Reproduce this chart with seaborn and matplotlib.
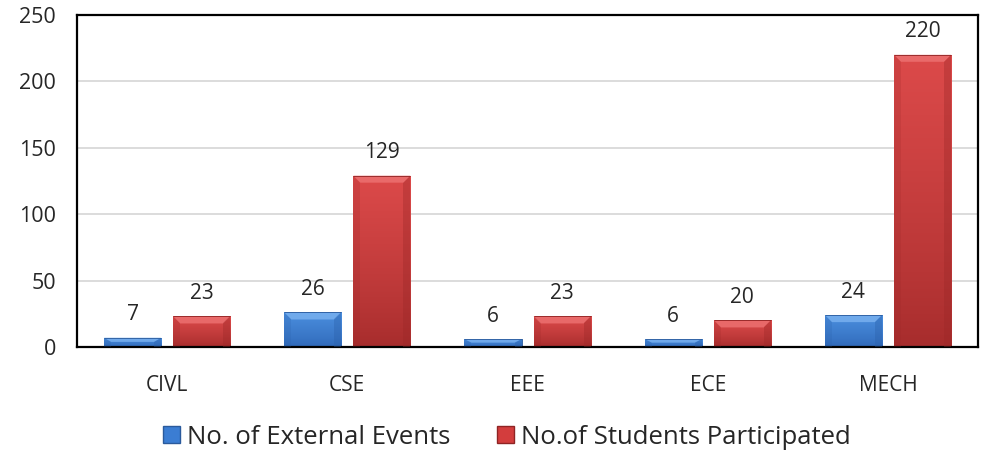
import matplotlib
matplotlib.use("Agg")
import matplotlib.pyplot as plt
import matplotlib.patches as mpatches
import numpy as np
import seaborn as sns
import pandas as pd

departments = ["CIVL", "CSE", "EEE", "ECE", "MECH"]
external_events = [7, 26, 6, 6, 24]
students_participated = [23, 129, 23, 20, 220]
series_names = ["No. of External Events", "No.of Students Participated"]
y_ticks = [0, 50, 100, 150, 200, 250]

df = pd.DataFrame({
    "Department": departments * 2,
    "Value": external_events + students_participated,
    "Series": [series_names[0]] * len(departments) + [series_names[1]] * len(departments),
})

sns.set_theme(style="white")
plt.rcParams["font.family"] = ["Open Sans", "DejaVu Sans"]

colors = {series_names[0]: "#3b7dd3", series_names[1]: "#d33d3d"}
top_col = {series_names[0]: "#4a8ede", series_names[1]: "#dc4a4a"}
bot_col = {series_names[0]: "#2f68b8", series_names[1]: "#a62c2c"}
bevel_top = {series_names[0]: "#78b0ef", series_names[1]: "#ec7070"}
bevel_side = {series_names[0]: "#2a5fa8", series_names[1]: "#9a2727"}
edge = {series_names[0]: "#2a5a9c", series_names[1]: "#8f2424"}

fig = plt.figure(figsize=(9.94, 4.53), dpi=100)
ax = fig.add_axes([0.0775, 0.234, 0.9065, 0.733])

sns.barplot(data=df, x="Department", y="Value", hue="Series", palette=colors,
            width=0.767, gap=0.174, ax=ax, legend=False, saturation=1)

ax.set_xlim(-0.5, len(departments) - 0.5)
ax.set_ylim(0, 250)

# pixel-to-data scales for the bevel sizes
ax_h_px = 0.733 * 453
ax_w_px = 0.9065 * 994
dy_px = 250 / ax_h_px
dx_px = len(departments) / ax_w_px


def hex_rgb(c):
    return np.array(matplotlib.colors.to_rgb(c))


for container, name in zip(ax.containers, series_names):
    c_top, c_bot = hex_rgb(top_col[name]), hex_rgb(bot_col[name])
    for bar in container.patches:
        x0, w, h = bar.get_x(), bar.get_width(), bar.get_height()
        bar.set_edgecolor(edge[name])
        bar.set_linewidth(0.6)
        # vertical shading: lighter near the top, darker at the base
        t = np.linspace(1, 0, 64)[:, None, None]
        grad = c_bot + (c_top - c_bot) * t ** 0.8
        im = ax.imshow(grad, extent=(x0, x0 + w, 0, h), aspect="auto", zorder=2.5,
                       interpolation="bilinear")
        im.set_clip_path(bar)
        bv = min(7 * dy_px, h * 0.45)
        bx = 7 * dx_px
        # top bevel
        ax.add_patch(mpatches.Polygon([(x0, h), (x0 + w, h), (x0 + w - bx, h - bv), (x0 + bx, h - bv)],
                                      closed=True, facecolor=bevel_top[name], edgecolor="none",
                                      alpha=0.85, zorder=3))
        # side bevels
        ax.add_patch(mpatches.Polygon([(x0 + w, h), (x0 + w, 0), (x0 + w - bx, 0), (x0 + w - bx, h - bv)],
                                      closed=True, facecolor=bevel_side[name], edgecolor="none",
                                      alpha=0.35, zorder=3))
        ax.add_patch(mpatches.Polygon([(x0, h), (x0, 0), (x0 + bx, 0), (x0 + bx, h - bv)],
                                      closed=True, facecolor=bevel_side[name], edgecolor="none",
                                      alpha=0.2, zorder=3))
        ax.add_patch(mpatches.Rectangle((x0, h), w, 0, fill=False, edgecolor=edge[name],
                                        linewidth=0.6, zorder=3.1))
    ax.bar_label(container, labels=[str(int(v)) for v in container.datavalues],
                 padding=9, fontsize=15, color="#262626")

ax.set_yticks(y_ticks)
ax.set_yticklabels([str(t) for t in y_ticks], fontsize=15.5, color="#262626")
ax.tick_params(axis="x", labelsize=15, colors="#262626", pad=20, length=0)
ax.tick_params(axis="y", pad=15, length=0)
ax.set_xlabel("")
ax.set_ylabel("")
ax.yaxis.grid(True, color="#d9d9d9", linewidth=1.3)
ax.set_axisbelow(True)
for side in ["left", "right", "top", "bottom"]:
    ax.spines[side].set_visible(True)
    ax.spines[side].set_color("black")
    ax.spines[side].set_linewidth(1.6)

handles = [mpatches.Patch(facecolor=colors[n], edgecolor=edge[n], label=n) for n in series_names]
fig.legend(handles=handles, loc="center", bbox_to_anchor=(0.51, 0.035), ncol=2, frameon=False,
           fontsize=18.5, handlelength=0.65, handleheight=0.65, handletextpad=0.3, columnspacing=1.8,
           labelcolor="#262626")

fig.savefig("out.png", dpi=100)
